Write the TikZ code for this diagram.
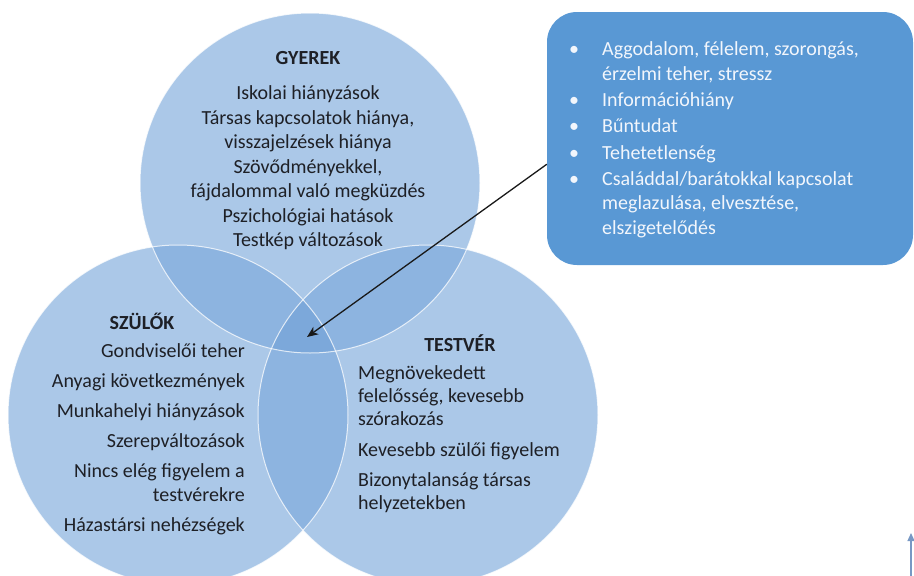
\documentclass[tikz,border=0pt]{standalone}
\usepackage{fontspec}
\setmainfont{Carlito}
\usetikzlibrary{arrows.meta}
\definecolor{cone}{RGB}{171,200,232}
\definecolor{ctwo}{RGB}{141,180,224}
\definecolor{cthree}{RGB}{124,168,218}
\definecolor{boxblue}{RGB}{89,152,212}
\definecolor{txtdark}{RGB}{30,32,38}
\definecolor{boxtxt}{RGB}{242,246,252}
\definecolor{cornerblue}{RGB}{120,152,196}
\newcommand{\tstrut}{\rule{0pt}{17pt}}
\newcommand{\bul}{\makebox[33pt][l]{\textbullet}}
\newcommand{\ind}{\hspace*{33pt}}
\begin{document}
\begin{tikzpicture}[x=1pt,y=-1pt,
  title/.style={font=\fontsize{20}{24}\selectfont\bfseries, text=txtdark, inner sep=0pt, anchor=base},
  bodytext/.style={text=txtdark, inner sep=0pt},
  ring/.style={draw=white, draw opacity=0.75, line width=1pt},
  boxshape/.style={fill=boxblue, rounded corners=30pt, minimum width=366pt, minimum height=253pt, inner sep=0pt},
  pointer/.style={draw=black!90, line width=1.3pt, -{Stealth[length=11pt,width=9pt,inset=3pt]}}
]
\useasboundingbox (0,0) rectangle (914,576);
\begin{scope}
  \clip (0,0) rectangle (914,576);
  % single areas
  \fill[cone] (310,183) circle (170);
  \fill[cone] (178,415) circle (170);
  \fill[cone] (428,415) circle (170);
  % double overlaps
  \begin{scope}
    \clip (310,183) circle (170);
    \fill[ctwo] (178,415) circle (170);
    \fill[ctwo] (428,415) circle (170);
  \end{scope}
  \begin{scope}
    \clip (178,415) circle (170);
    \fill[ctwo] (428,415) circle (170);
  \end{scope}
  % triple overlap
  \begin{scope}
    \clip (310,183) circle (170);
    \clip (178,415) circle (170);
    \fill[cthree] (428,415) circle (170);
  \end{scope}
  % outlines
  \draw[ring] (310,183) circle (170);
  \draw[ring] (178,415) circle (170);
  \draw[ring] (428,415) circle (170);
  % small arrow at lower right corner
  \coordinate (cornerlow) at (911,578);
  \coordinate (cornerhigh) at (911,533);
  \draw[draw=cornerblue, line width=1.2pt, -{Triangle[length=8pt,width=7pt]}] (cornerlow) -- (cornerhigh);
\end{scope}

% titles
\node[title] (gyerekT) at (308,64.5) {GYEREK};
\node[title] (szulokT) at (142,329) {SZÜLŐK};
\node[title] (testverT) at (460,351.5) {TESTVÉR};

% GYEREK body
\node[bodytext, align=center, anchor=north, font=\fontsize{20}{24.5}\selectfont] (gyerekB) at (308,82.5)
{\tstrut Iskolai hiányzások\\
 Társas kapcsolatok hiánya,\\
 visszajelzések hiánya\\
 Szövődményekkel,\\
 fájdalommal való megküzdés\\
 Pszichológiai hatások\\
 Testkép változások};

% SZÜLŐK body
\node[bodytext, align=right, anchor=north east, font=\fontsize{20}{23.5}\selectfont] (szulokB) at (245,340.5)
{\tstrut Gondviselői teher\\[6.5pt]
 Anyagi következmények\\[6.5pt]
 Munkahelyi hiányzások\\[6.5pt]
 Szerepváltozások\\[6.5pt]
 Nincs elég figyelem a\\
 testvérekre\\[6.5pt]
 Házastársi nehézségek};

% TESTVÉR body
\node[bodytext, align=left, anchor=north west, font=\fontsize{20}{22.8}\selectfont] (testverB) at (358,362.5)
{\tstrut Megnövekedett\\
 felelősség, kevesebb\\
 szórakozás\\[8pt]
 Kevesebb szülői figyelem\\[8pt]
 Bizonytalanság társas\\
 helyzetekben};

% box
\node[boxshape] (box) at (730,138.5) {};
\node[inner sep=0pt, align=left, anchor=north west, text=boxtxt, font=\fontsize{20}{24.7}\selectfont] (boxlist) at (569,38.5)
{\tstrut\bul Aggodalom, félelem, szorongás,\\
 \ind érzelmi teher, stressz\\[1.5pt]
 \bul Információhiány\\[1.5pt]
 \bul Bűntudat\\[1.5pt]
 \bul Tehetetlenség\\[1.5pt]
 \bul Családdal/barátokkal kapcsolat\\
 \ind meglazulása, elvesztése,\\
 \ind elszigetelődés};

% arrow
\coordinate (center3) at (307,337);
\draw[pointer] (box.188) -- (center3);
\end{tikzpicture}
\end{document}
